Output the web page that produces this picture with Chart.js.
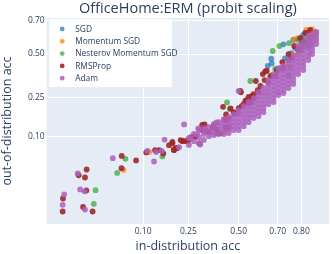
<!DOCTYPE html>
<html><head><meta charset="utf-8">
<script src="https://cdn.jsdelivr.net/npm/chart.js@4/dist/chart.umd.min.js"></script>
<style>html,body{margin:0;padding:0;background:#fff;overflow:hidden}#wrap{width:332px;height:254px}</style>
</head><body><div id="wrap"><canvas id="c" width="332" height="254"></canvas></div>
<script>
const chartTitle = 'OfficeHome:ERM (probit scaling)';
const xTitle = 'in-distribution acc';
const yTitle = 'out-of-distribution acc';
const seriesNames = ['SGD', 'Momentum SGD', 'Nesterov Momentum SGD', 'RMSProp', 'Adam'];
const seriesColors = ['rgba(31,119,180,0.72)', 'rgba(255,127,14,0.75)', 'rgba(44,160,44,0.68)', 'rgba(160,40,40,0.9)', 'rgba(172,96,188,0.86)'];
const xTickValues = [0.10, 0.25, 0.50, 0.70, 0.80];
const xTickLabels = ['0.10', '0.25', '0.50', '0.70', '0.80'];
const yTickValues = [0.10, 0.25, 0.50, 0.70];
const yTickLabels = ['0.10', '0.25', '0.50', '0.70'];
const xRange = [0.005, 0.8875];
const yRange = [0.004, 0.713];

const sgdX = [.726,.733,.669,.671,.768,.698,.652,.760,.807,.818,.828,.801,.788,.845,.835,.748,.776,.814,.712,.821];
const sgdY = [.560,.473,.471,.442,.587,.397,.427,.506,.617,.629,.635,.575,.543,.611,.593,.463,.537,.587,.413,.549];

const momX = [.061,.115,.838,.847,.772,.785,.831,.851,.825,.841,.811,.796,.848,.818,.768,.788,.726];
const momY = [.0353,.0634,.650,.635,.591,.597,.623,.629,.599,.611,.575,.550,.587,.646,.494,.512,.438];

const nesX = [.0274,.026,.0643,.0515,.153,.370,.438,.452,.562,.584,.669,.676,.708,.750,.688,.754,.748,.788,.807,.825,.801,.831];
const nesY = [.0168,.0097,.051,.0318,.055,.136,.225,.195,.337,.244,.370,.519,.550,.568,.409,.421,.371,.587,.556,.574,.525,.562];

const rmsX = [.0092,.0091,.0207,.0159,.0196,.0205,.0184,.025,.0583,.0843,.0579,.1075,.131,.156,
.175,.187,.193,.204,.218,.199,.192,.187,.225,.247,.248,.274,.282,.300,.312,.324,.312,.345,.386,.385,.405,.430,.447,.417,.433,.447,.457,.512,.553,.565,.601,.536,.553,.627,.647,.639,.591,.570,.509,
.479,.5,.527,.542,.579,.615,.636,.665,.695,.721,.748,.772,.796,.814,.831,.726,.761,.788,.807,.689,.655,.605,.574,.516,.473,.426,.364,.330,.261,.232,.143];
const rmsY = [.0121,.0070,.0358,.0293,.027,.0166,.0085,.0070,.056,.0484,.0375,.0623,.0668,.0603,
.0775,.085,.0668,.071,.0896,.071,.068,.0815,.087,.087,.0896,.098,.098,.0815,.134,.136,.118,.111,.108,.118,.108,.124,.127,.205,.173,.157,.198,.275,.252,.228,.287,.233,.221,.377,.397,.393,.337,.256,.282,
.178,.199,.217,.236,.266,.309,.342,.365,.401,.450,.5,.550,.599,.629,.646,.413,.475,.525,.574,.365,.331,.276,.246,.208,.182,.151,.127,.115,.097,.087,.0668];

const adamX = [.0096,.0091,.0154,.0167,.0194,.0196,.0456,.110,.134,.151,.128,.160,.232,.260,.289,.294,.303,.325,.383,.5,.5,
.212,
.252,.252,
.274,.274,
.297,.297,.297,
.320,.320,.320,
.345,.345,.345,
.370,.370,.370,.370,
.395,.395,.395,.395,
.421,.421,.421,.421,.421,
.447,.447,.447,.447,.447,
.473,.473,.473,.473,.473,
.500,.500,.500,.500,.500,.500,
.527,.527,.527,.527,.527,.527,
.553,.553,.553,.553,.553,.553,
.579,.579,.579,.579,.579,.579,
.605,.605,.605,.605,.605,.605,.605,
.630,.630,.630,.630,.630,.630,.630,
.655,.655,.655,.655,.655,.655,.655,
.680,.680,.680,.680,.680,.680,.680,.680,
.703,.703,.703,.703,.703,.703,.703,.703,
.726,.726,.726,.726,.726,.726,.726,.726,
.748,.748,.748,.748,.748,.748,.748,.748,
.768,.768,.768,.768,.768,.768,.768,.768,
.788,.788,.788,.788,.788,.788,.788,.788,
.807,.807,.807,.807,.807,.807,.807,.807,
.825,.825,.825,.825,.825,.825,.825,
.838,.838,.838,.838,.838,.838,
.851,.851,.851,.851];
const adamY = [.0142,.0093,.0312,.0173,.0161,.0076,.052,.0654,.063,.0654,.0468,.091,.136,.094,.105,.123,.079,.118,.143,.282,.177,
.073,
.095,.078,
.106,.087,
.118,.097,.082,
.124,.106,.090,
.127,.112,.100,
.137,.124,.112,.103,
.144,.130,.118,.106,
.155,.140,.127,.114,.106,
.162,.148,.134,.121,.109,
.174,.159,.144,.130,.118,
.191,.174,.159,.144,.130,.118,
.208,.191,.174,.159,.144,.130,
.227,.208,.191,.174,.159,.144,
.246,.227,.208,.191,.174,.159,
.276,.256,.236,.217,.199,.182,.166,
.298,.276,.256,.236,.217,.199,.182,
.342,.320,.298,.276,.256,.236,.217,
.377,.354,.331,.309,.287,.266,.246,.227,
.413,.389,.365,.342,.320,.298,.276,.261,
.426,.401,.377,.354,.331,.309,.287,.271,
.463,.438,.413,.389,.365,.342,.320,.298,
.488,.463,.438,.413,.389,.365,.342,.320,
.550,.525,.500,.475,.450,.426,.401,.377,
.574,.550,.525,.500,.475,.450,.426,.401,
.611,.587,.562,.537,.512,.488,.463,
.623,.599,.574,.550,.525,.500,
.635,.611,.587,.562];

// inverse standard normal CDF (probit), used as the axis transform
function probit(p){
  const a=[-3.969683028665376e+01,2.209460984245205e+02,-2.759285104469687e+02,1.383577518672690e+02,-3.066479806614716e+01,2.506628277459239e+00];
  const b=[-5.447609879822406e+01,1.615858368580409e+02,-1.556989798598866e+02,6.680131188771972e+01,-1.328068155288572e+01];
  const c=[-7.784894002430293e-03,-3.223964580411365e-01,-2.400758277161838e+00,-2.549732539343734e+00,4.374664141464968e+00,2.938163982698783e+00];
  const d=[7.784695709041462e-03,3.224671290700398e-01,2.445134137142996e+00,3.754408661907416e+00];
  const pl=0.02425, ph=1-pl; let q, r;
  if(p<pl){q=Math.sqrt(-2*Math.log(p));return (((((c[0]*q+c[1])*q+c[2])*q+c[3])*q+c[4])*q+c[5])/((((d[0]*q+d[1])*q+d[2])*q+d[3])*q+1);}
  if(p>ph){q=Math.sqrt(-2*Math.log(1-p));return -(((((c[0]*q+c[1])*q+c[2])*q+c[3])*q+c[4])*q+c[5])/((((d[0]*q+d[1])*q+d[2])*q+d[3])*q+1);}
  q=p-0.5; r=q*q;
  return (((((a[0]*r+a[1])*r+a[2])*r+a[3])*r+a[4])*r+a[5])*q/(((((b[0]*r+b[1])*r+b[2])*r+b[3])*r+b[4])*r+1);
}

const FONT = "'Open Sans', verdana, arial, sans-serif";
const TXT = '#2a3f5f';
const seriesX = [sgdX, momX, nesX, rmsX, adamX];
const seriesY = [sgdY, momY, nesY, rmsY, adamY];

const datasets = seriesNames.map((name, i) => ({
  label: name,
  data: seriesX[i].map((x, j) => ({x: probit(x), y: probit(seriesY[i][j])})),
  backgroundColor: seriesColors[i],
  borderWidth: 0,
  pointRadius: 2.9,
  pointHoverRadius: 2.9,
  order: seriesNames.length - i
}));

const bgPlugin = {id:'bg', beforeDraw(ch){
  const {ctx, chartArea:a} = ch;
  ctx.save();
  ctx.fillStyle = '#fff'; ctx.fillRect(0, 0, ch.width, ch.height);
  ctx.fillStyle = '#e5ecf6'; ctx.fillRect(a.left, a.top, a.right - a.left, a.bottom - a.top);
  ctx.restore();
}};
const titlePlugin = {id:'ttl', afterDraw(ch){
  const {ctx, chartArea:a} = ch;
  ctx.save();
  ctx.fillStyle = TXT; ctx.font = '14.5px ' + FONT;
  ctx.textAlign = 'center'; ctx.textBaseline = 'middle';
  ctx.fillText(chartTitle, (a.left + a.right) / 2, 8.5);
  ctx.restore();
}};
const legendPlugin = {id:'lgd', afterDraw(ch){
  const {ctx, chartArea:a} = ch;
  const x0 = a.left + 2.5, y0 = a.top + 1;
  ctx.save();
  ctx.fillStyle = '#fff'; ctx.fillRect(x0, y0, 123, 68);
  ctx.font = '8.4px ' + FONT; ctx.textAlign = 'left'; ctx.textBaseline = 'middle';
  seriesNames.forEach((n, i) => {
    const y = y0 + 10 + i * 12.3;
    ctx.fillStyle = seriesColors[i];
    ctx.beginPath(); ctx.arc(x0 + 13, y, 2.4, 0, Math.PI * 2); ctx.fill();
    ctx.fillStyle = TXT; ctx.fillText(n, x0 + 26, y + 0.5);
  });
  ctx.restore();
}};

new Chart(document.getElementById('c'), {
  type: 'scatter',
  data: {datasets},
  options: {
    responsive: false, animation: false, devicePixelRatio: 1,
    events: [],
    layout: {padding: {left: 0, right: 1, top: 18, bottom: 0}},
    plugins: {legend: {display: false}, tooltip: {enabled: false}, title: {display: false}},
    scales: {
      x: {
        type: 'linear', min: probit(xRange[0]), max: probit(xRange[1]),
        afterBuildTicks: s => { s.ticks = xTickValues.map(v => ({value: probit(v)})); },
        afterFit: s => { s.height = 30; },
        ticks: {callback: (v, i) => xTickLabels[i], font: {family: FONT, size: 8.5}, color: TXT, padding: 2, maxRotation: 0, autoSkip: false},
        grid: {color: '#ffffff', lineWidth: 1, drawTicks: false},
        border: {display: false},
        title: {display: true, text: xTitle, color: TXT, font: {family: FONT, size: 12.5}, padding: {top: 0, bottom: 0}}
      },
      y: {
        type: 'linear', min: probit(yRange[0]), max: probit(yRange[1]),
        afterBuildTicks: s => { s.ticks = yTickValues.map(v => ({value: probit(v)})); },
        afterFit: s => { s.width = 46.7; },
        ticks: {callback: (v, i) => yTickLabels[i], font: {family: FONT, size: 8.5}, color: TXT, padding: 2, autoSkip: false},
        grid: {color: '#ffffff', lineWidth: 1, drawTicks: false},
        border: {display: false},
        title: {display: true, text: yTitle, color: TXT, font: {family: FONT, size: 12.5}, padding: {top: 0, bottom: 0}}
      }
    }
  },
  plugins: [bgPlugin, titlePlugin, legendPlugin]
});
</script>
</body></html>
